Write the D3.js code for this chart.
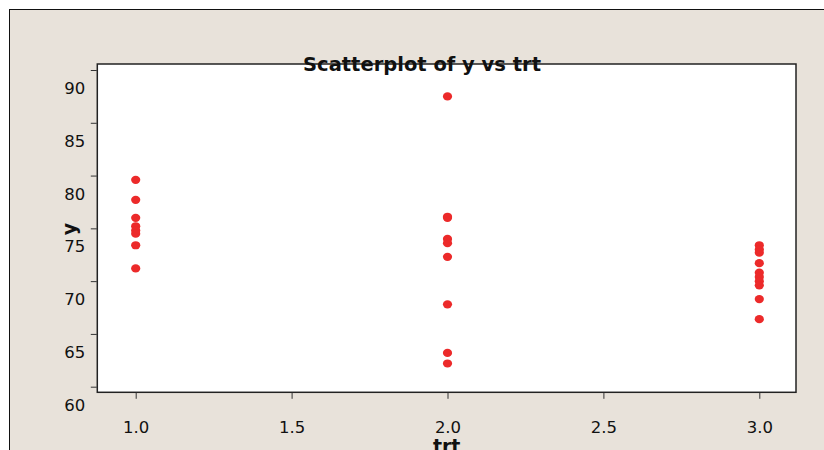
<!DOCTYPE html>
<html>
<head>
<meta charset="utf-8">
<script src="https://cdnjs.cloudflare.com/ajax/libs/d3/7.8.5/d3.min.js"></script>
<style>
  body { margin: 0; background: #fff; }
  svg { display: block; font-family: "DejaVu Sans", Verdana, sans-serif; }
</style>
</head>
<body>
<div id="chart"></div>
<script>
// values
var trt1 = [79.6, 77.7, 76.0, 75.2, 74.8, 74.5, 73.4, 71.2];
var trt2 = [87.5, 76.1, 76.0, 74.0, 73.6, 72.3, 67.8, 63.2, 62.2];
var trt3 = [73.4, 73.0, 72.7, 71.7, 70.8, 70.4, 70.0, 69.6, 68.3, 66.4];
var groups = [1, 2, 3];
var xTicks = [1.0, 1.5, 2.0, 2.5, 3.0];
var yTicks = [60, 65, 70, 75, 80, 85, 90];

var data = [];
[trt1, trt2, trt3].forEach(function (vals, i) {
  vals.forEach(function (v) { data.push({ trt: groups[i], y: v }); });
});

var W = 824, H = 450;
var plot = { left: 97.3, top: 64, right: 796, bottom: 392.3 };

var svg = d3.select('#chart').append('svg')
  .attr('width', W).attr('height', H);

// outer frame
svg.append('rect')
  .attr('x', 9.5).attr('y', 9.5)
  .attr('width', W).attr('height', H)
  .attr('fill', '#e8e2da')
  .attr('stroke', '#111').attr('stroke-width', 1);

var x = d3.scaleLinear().domain([1, 3]).range([135.7, 759.3]);
var y = d3.scaleLinear().domain([60, 90]).range([386.7, 70]);

svg.append('rect')
  .attr('x', plot.left).attr('y', plot.top)
  .attr('width', plot.right - plot.left)
  .attr('height', plot.bottom - plot.top)
  .attr('fill', '#fff')
  .attr('stroke', '#222').attr('stroke-width', 1.5);

// y axis (labels sit below their ticks in the original)
var gy = svg.append('g')
  .attr('transform', 'translate(' + (plot.left - 0.5) + ',0)')
  .call(d3.axisLeft(y).tickValues(yTicks).tickSize(6).tickPadding(5.5));
gy.select('.domain').remove();
gy.selectAll('.tick line').attr('stroke', '#333');
gy.selectAll('.tick text')
  .attr('y', 18.3)
  .attr('font-size', 16.5)
  .attr('font-family', '"DejaVu Sans", Verdana, sans-serif')
  .attr('fill', '#111');

// x axis
var gx = svg.append('g')
  .attr('transform', 'translate(0,' + (plot.bottom + 0.5) + ')')
  .call(d3.axisBottom(x).tickValues(xTicks).tickFormat(d3.format('.1f')).tickSize(6).tickPadding(22));
gx.select('.domain').remove();
gx.selectAll('.tick line').attr('stroke', '#333');
gx.selectAll('.tick text')
  .attr('font-size', 16.5)
  .attr('font-family', '"DejaVu Sans", Verdana, sans-serif')
  .attr('fill', '#111');

// points
svg.append('g')
  .selectAll('ellipse')
  .data(data)
  .enter()
  .append('ellipse')
    .attr('cx', function (d) { return x(d.trt); })
    .attr('cy', function (d) { return y(d.y); })
    .attr('rx', 4.6).attr('ry', 4.1)
    .attr('fill', '#ec2a2a');

// titles
svg.append('text')
  .attr('x', 422).attr('y', 71)
  .attr('text-anchor', 'middle')
  .attr('font-size', 19.5).attr('font-weight', 'bold')
  .attr('fill', '#111')
  .text('Scatterplot of y vs trt');

svg.append('text')
  .attr('transform', 'translate(76,229) rotate(-90)')
  .attr('text-anchor', 'middle')
  .attr('font-size', 19).attr('font-weight', 'bold')
  .attr('fill', '#111')
  .text('y');

svg.append('text')
  .attr('x', (plot.left + plot.right) / 2).attr('y', 453)
  .attr('text-anchor', 'middle')
  .attr('font-size', 19).attr('font-weight', 'bold')
  .attr('fill', '#111')
  .text('trt');
</script>
</body>
</html>
